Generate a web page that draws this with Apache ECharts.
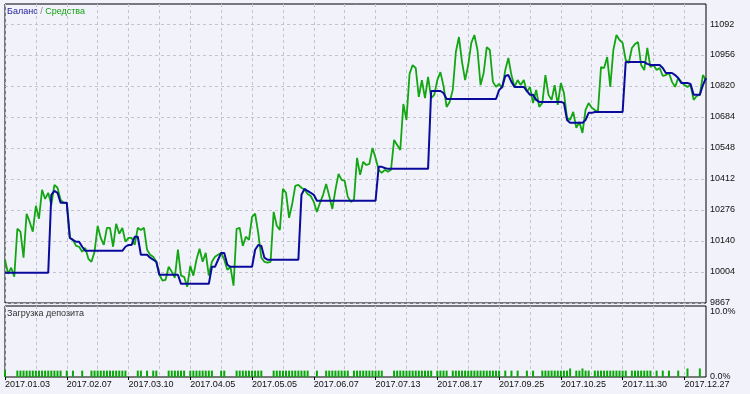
<!DOCTYPE html>
<html><head><meta charset="utf-8">
<script src="https://cdn.jsdelivr.net/npm/echarts@6/dist/echarts.min.js"></script>
<style>html,body{margin:0;padding:0;background:#F2F2FA}#c{width:750px;height:394px}</style>
</head><body><div id="c"></div>
<script>
// deal numbers along the x axis
const categories = [];
for (let i = 1; i <= 228; i++) categories.push(String(i));

const dateLabels = ['2017.01.03','2017.02.07','2017.03.10','2017.04.05','2017.05.05','2017.06.07',
  '2017.07.13','2017.08.17','2017.09.25','2017.10.25','2017.11.30','2017.12.27'];
const labelEvery = 20;

const yTicks = [9867, 10004, 10140, 10276, 10412, 10548, 10684, 10820, 10956, 11092];
const loadTicks = [0, 10];

const equity = [
10057, 9995, 10022, 9982, 10193, 10180, 10066, 10259, 10223, 10180,
10294, 10237, 10364, 10324, 10351, 10298, 10386, 10373, 10320, 10307,
10307, 10153, 10144, 10118, 10114, 10092, 10109, 10061, 10048, 10092,
10206, 10153, 10122, 10197, 10197, 10114, 10215, 10171, 10197, 10136,
10153, 10153, 10122, 10197, 10188, 10197, 10101, 10079, 10070, 10048,
9991, 9965, 9969, 10026, 10004, 9978, 10101, 9987, 9982, 9938,
10030, 9987, 10057, 10105, 10048, 10087, 9987, 10048, 10070, 10079,
10087, 10057, 10013, 10026, 9943, 10193, 10197, 10118, 10158, 10144,
10245, 10259, 10175, 10066, 10048, 10044, 10048, 10267, 10206, 10188,
10368, 10351, 10241, 10302, 10381, 10386, 10373, 10364, 10346, 10337,
10311, 10267, 10307, 10342, 10390, 10337, 10280, 10364, 10434, 10408,
10403, 10333, 10311, 10320, 10504, 10430, 10487, 10473, 10478, 10548,
10504, 10452, 10438, 10452, 10443, 10452, 10583, 10561, 10539, 10741,
10671, 10873, 10912, 10899, 10772, 10846, 10767, 10860, 10767, 10781,
10846, 10881, 10820, 10728, 10750, 10803, 10969, 11035, 10925, 10846,
10912, 11009, 11044, 10978, 10824, 10877, 10991, 10978, 10838, 10816,
10829, 10811, 10890, 10943, 10868, 10816, 10846, 10824, 10846, 10794,
10816, 10745, 10803, 10728, 10745, 10868, 10781, 10759, 10824, 10737,
10833, 10789, 10680, 10671, 10706, 10636, 10662, 10614, 10715, 10745,
10724, 10715, 10706, 10903, 10899, 10947, 10816, 10978, 11044, 11022,
11009, 10934, 10921, 10987, 11004, 11013, 10912, 10890, 10987, 10903,
10912, 10890, 10899, 10864, 10868, 10877, 10838, 10816, 10855, 10838,
10824, 10816, 10824, 10759, 10776, 10781, 10868, 10846
];

const balance = [
10000, 10000, 10000, 10000, 10000, 10000, 10000, 10000, 10000, 10000,
10000, 10000, 10000, 10000, 10000, 10342, 10359, 10351, 10307, 10307,
10307, 10153, 10144, 10136, 10136, 10114, 10096, 10096, 10096, 10096,
10096, 10096, 10096, 10096, 10096, 10096, 10096, 10096, 10096, 10114,
10122, 10122, 10158, 10158, 10079, 10079, 10079, 10066, 10057, 10048,
9991, 9991, 9991, 9991, 9991, 9991, 9991, 9951, 9951, 9951,
9951, 9951, 9951, 9951, 9951, 9951, 9951, 10026, 10026, 10057,
10087, 10087, 10035, 10026, 10026, 10026, 10026, 10026, 10026, 10026,
10026, 10101, 10122, 10118, 10066, 10057, 10057, 10057, 10057, 10057,
10057, 10057, 10057, 10057, 10057, 10057, 10342, 10368, 10359, 10351,
10342, 10316, 10316, 10316, 10316, 10316, 10316, 10316, 10316, 10316,
10316, 10316, 10316, 10316, 10316, 10316, 10316, 10316, 10316, 10316,
10316, 10465, 10465, 10460, 10456, 10456, 10456, 10456, 10456, 10456,
10456, 10456, 10456, 10456, 10456, 10456, 10456, 10456, 10798, 10798,
10798, 10798, 10789, 10763, 10763, 10763, 10763, 10763, 10763, 10763,
10763, 10763, 10763, 10763, 10763, 10763, 10763, 10763, 10763, 10763,
10802, 10816, 10864, 10868, 10838, 10816, 10816, 10816, 10816, 10798,
10781, 10781, 10759, 10750, 10750, 10750, 10750, 10750, 10750, 10750,
10750, 10745, 10671, 10658, 10658, 10658, 10658, 10658, 10671, 10702,
10702, 10706, 10706, 10706, 10706, 10706, 10706, 10706, 10706, 10706,
10706, 10925, 10925, 10925, 10925, 10925, 10925, 10925, 10917, 10912,
10912, 10912, 10912, 10899, 10877, 10877, 10877, 10868, 10855, 10833,
10833, 10833, 10829, 10781, 10781, 10781, 10824, 10855
];

const depositLoad = [
0.9, 0, 0, 0, 0.9, 0.9, 0.9, 0.9, 0.9, 0.9,
0.9, 0.9, 0.9, 0.9, 0.9, 0.9, 0.9, 0.9, 0.9, 0,
0.9, 0, 0.9, 0, 0, 0.9, 0, 0, 0.9, 0.9,
0.9, 0.9, 0.9, 0.9, 0.9, 0.9, 0.9, 0.9, 0.9, 0.9,
0, 0, 0, 0.9, 0.9, 0, 0.9, 0, 0.9, 0.9,
0, 0, 0, 0.9, 0.9, 0.9, 0.9, 0.9, 0.9, 0,
0.9, 0.9, 0.9, 0.9, 0.9, 0.9, 0.9, 0.9, 0, 0,
0.9, 0.9, 0, 0, 0, 0.9, 0.9, 0.9, 0.9, 0.9,
0.9, 0.9, 0.9, 0.9, 0, 0, 0, 0.9, 0.9, 0.9,
0.9, 0.9, 0.9, 0.9, 0.9, 0.9, 0.9, 0.9, 0.9, 0,
0, 0.9, 0, 0, 0.9, 0.9, 0.9, 0.9, 0.9, 0.9,
0.9, 0.9, 0, 0.9, 0.9, 0.9, 0.9, 0.9, 0.9, 0.9,
0.9, 0.9, 0.9, 0, 0, 0, 0.9, 0.9, 0.9, 0.9,
0.9, 0.9, 0.9, 0.9, 0.9, 0.9, 0.9, 0.9, 0.9, 0,
0.9, 0.9, 0.9, 0.9, 0, 0.9, 0.9, 0.9, 0.9, 0.9,
0.9, 0.9, 0.9, 0.9, 0.9, 0.9, 0.9, 0.9, 0.9, 0.9,
0.9, 0, 0.9, 0, 0.9, 0, 0.9, 0, 0, 0.9,
0, 0.9, 0, 0, 0.9, 0.9, 0.9, 0.9, 0.9, 0.9,
0.9, 0.9, 0.9, 1.2, 0, 0.9, 0.9, 1.2, 0.9, 0.9,
0, 0.9, 0.9, 0.9, 0.9, 0.9, 0.9, 0.9, 0.9, 0.9,
0.9, 0.9, 0, 0.9, 0.9, 0.9, 0.9, 0.9, 0.9, 0.9,
0, 0.9, 0, 0.9, 0, 0.9, 0, 0, 0.9, 0,
0, 1.2, 0, 0, 0, 1.2, 0, 0
];

const FONT = 'Liberation Sans';
const gridLine = { show: true, lineStyle: { color: '#C4C4CE', type: [3, 3], width: 1 } };

const chart = echarts.init(document.getElementById('c'), null, { renderer: 'canvas' });
chart.setOption({
  animation: false,
  backgroundColor: '#F2F2FA',
  textStyle: { fontFamily: FONT },
  title: [
    { text: '{b|Баланс} {s|/} {g|Средства}', left: 7, top: 7, padding: 0,
      textStyle: { fontSize: 9, fontWeight: 'normal', fontFamily: FONT,
        rich: {
          b: { color: '#24249C', fontSize: 9, fontFamily: FONT },
          s: { color: '#808080', fontSize: 9, fontFamily: FONT },
          g: { color: '#14A014', fontSize: 9, fontFamily: FONT }
        } } },
    { text: 'Загрузка депозита', left: 7, top: 309, padding: 0,
      textStyle: { fontSize: 9, color: '#333333', fontWeight: 'normal', fontFamily: FONT } }
  ],
  grid: [
    { left: 5, top: 4, width: 701, height: 299, show: true, borderColor: '#000', borderWidth: 1, backgroundColor: 'transparent' },
    { left: 5, top: 306, width: 701, height: 71, show: true, borderColor: '#000', borderWidth: 1, backgroundColor: 'transparent' }
  ],
  xAxis: [
    { gridIndex: 0, type: 'category', data: categories, boundaryGap: false,
      axisLine: { show: false }, axisTick: { show: false }, axisLabel: { show: false },
      splitLine: Object.assign({}, gridLine, { interval: 9 }) },
    { gridIndex: 1, type: 'category', data: categories, boundaryGap: false,
      axisLine: { show: false },
      axisTick: { show: true, interval: labelEvery - 1, length: 3, lineStyle: { color: '#000' } },
      axisLabel: { interval: labelEvery - 1, align: 'left', margin: 3, fontSize: 9, color: '#111111', fontFamily: FONT,
        formatter: function (v, idx) { return dateLabels[Math.round(idx / labelEvery)] || ''; } },
      splitLine: Object.assign({}, gridLine, { interval: 9 }) }
  ],
  yAxis: [
    { gridIndex: 0, type: 'value', position: 'right', min: 9867, max: 11180,
      axisLine: { show: false }, axisTick: { show: false, customValues: yTicks },
      axisLabel: { customValues: yTicks, margin: 4, fontSize: 9, color: '#111111', fontFamily: FONT,
        formatter: function (v) { return String(Math.round(v)); } },
      splitLine: gridLine },
    { gridIndex: 1, type: 'value', position: 'right', min: 0, max: 10,
      axisLine: { show: false }, axisTick: { show: false, customValues: loadTicks },
      axisLabel: { customValues: loadTicks, margin: 4, fontSize: 9, color: '#111111', fontFamily: FONT,
        formatter: function (v) { return v >= 10 ? '{t|10.0%}' : '0.0%'; },
        rich: { t: { padding: [11, 0, 0, 0], fontSize: 9, color: '#111111', fontFamily: FONT } } },
      splitLine: { show: false } }
  ],
  series: [
    { name: 'Средства', type: 'line', xAxisIndex: 0, yAxisIndex: 0, data: equity, symbol: 'none',
      lineStyle: { color: '#12A612', width: 1.8 }, z: 2 },
    { name: 'Баланс', type: 'line', xAxisIndex: 0, yAxisIndex: 0, data: balance, symbol: 'none',
      lineStyle: { color: '#0A0A9C', width: 2 }, z: 3 },
    { name: 'Загрузка депозита', type: 'bar', xAxisIndex: 1, yAxisIndex: 1, data: depositLoad,
      barWidth: 2, itemStyle: { color: '#08A808' } }
  ]
});
</script></body></html>
